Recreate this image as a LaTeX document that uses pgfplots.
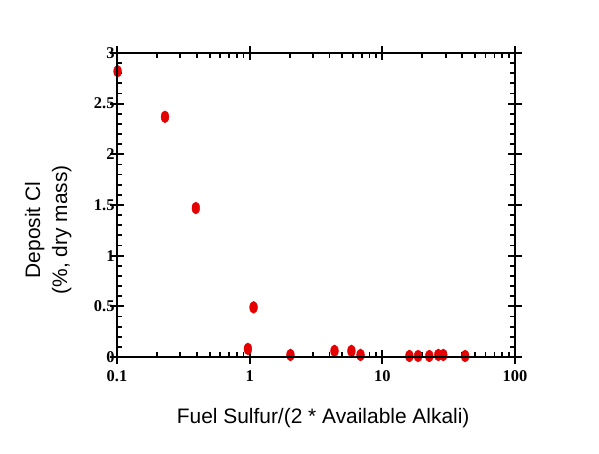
\documentclass[border=0pt]{standalone}
\usepackage{fontspec}
\setmainfont{Liberation Sans}
\newfontfamily\tickfont{Liberation Serif}
\usepackage{pgfplots}
\pgfplotsset{compat=1.18}
\definecolor{mred}{RGB}{228,0,0}
\begin{document}
\begin{tikzpicture}
\path[use as bounding box] (0,0) rectangle (599bp,454bp);
\begin{axis}[
  at={(117bp,97bp)}, anchor=south west,
  scale only axis, width=398bp, height=304bp,
  xmode=log, xmin=0.1, xmax=100, ymin=0, ymax=3,
  ytick={0,0.5,1,1.5,2,2.5,3},
  yticklabels={0,0.5,1,1.5,2,2.5,3},
  xtick={0.1,1,10,100},
  xticklabels={0.1,1,10,100},
  minor y tick num=4,
  tick align=inside,
  major tick length=7bp, minor tick length=5bp,
  axis line style={line width=2.6bp},
  every tick/.style={black, line width=2bp},
  every minor tick/.style={black, line width=1.8bp},
  every tick label/.append style={font=\fontsize{16.5}{18}\selectfont\tickfont\bfseries},
  /pgf/number format/assume math mode=true,
  xticklabel style={yshift=-10bp},
  yticklabel style={xshift=1bp},
  xlabel={Fuel Sulfur/(2 * Available Alkali)},
  ylabel={Deposit Cl\\(\%, dry mass)},
  label style={font=\fontsize{21}{27}\selectfont},
  xlabel style={at={(axis description cs:0.518,-0.2)}, anchor=center},
  ylabel style={at={(axis description cs:-0.173,0.418)}, anchor=center, align=center, rotate=0},
  clip=false,
]
\addplot[only marks, mark=*, mark size=6bp, mark options={xscale=0.65, fill=mred, draw=mred}] coordinates {
(0.101,2.82) (0.23,2.37) (0.393,1.47) (0.97,0.08) (1.07,0.49) (2.03,0.02)
(4.36,0.06) (5.85,0.06) (6.85,0.02) (16.0,0.01) (18.6,0.01) (22.6,0.01)
(26.4,0.02) (28.8,0.02) (42.1,0.01)
};
\end{axis}
\begin{axis}[
  at={(117bp,97bp)}, anchor=south west,
  scale only axis, width=398bp, height=304bp,
  xmode=log, xmin=0.1, xmax=100, ymin=0, ymax=3,
  ytick={0,0.5,1,1.5,2,2.5,3},
  xtick={0.1,1,10,100},
  xticklabels={}, yticklabels={},
  minor tick num=0, xminorticks=false, yminorticks=false,
  tick align=outside, major tick length=7bp,
  axis line style={line width=2.6bp},
  every tick/.style={black, line width=2bp},
]
\addplot[draw=none] coordinates {(1,1)};
\end{axis}
\end{tikzpicture}
\end{document}
